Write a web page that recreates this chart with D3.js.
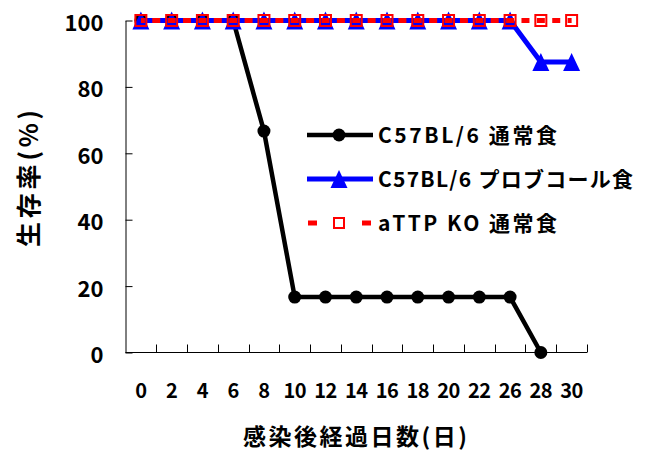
<!DOCTYPE html>
<html>
<head>
<meta charset="utf-8">
<script src="https://cdn.jsdelivr.net/npm/d3@7"></script>
<style>
  body { margin: 0; background: #fff; }
  text { font-family: "Noto Sans CJK JP", "Noto Sans", sans-serif; font-weight: bold; }
</style>
</head>
<body>
<div id="chart-area"></div>
<script>
// 日数 (24 is not in the original axis)
const days = ["0", "2", "4", "6", "8", "10", "12", "14", "16", "18", "20", "22", "26", "28", "30"]
const yTicks = [0, 20, 40, 60, 80, 100]

const seriesNames = ["C57BL/6 通常食", "C57BL/6 プロブコール食", "aTTP KO 通常食"]
const wildNormal = [100, 100, 100, 100, 66.7, 16.7, 16.7, 16.7, 16.7, 16.7, 16.7, 16.7, 16.7, 0, null]
const wildProbucol = [100, 100, 100, 100, 100, 100, 100, 100, 100, 100, 100, 100, 100, 87.5, 87.5]
const koNormal = [100, 100, 100, 100, 100, 100, 100, 100, 100, 100, 100, 100, 100, 100, 100]

const width = 651
const height = 453

const svg = d3.select("#chart-area").append("svg")
  .attr("width", width)
  .attr("height", height)

const x = d3.scaleBand()
  .domain(days)
  .range([125.5, 587])

const y = d3.scaleLinear()
  .domain([0, 100])
  .range([352.5, 20.5])

const cx = d => x(d) + x.bandwidth() / 2

// x軸
const xAxisCall = d3.axisBottom(x)
  .tickSize(0)
  .tickPadding(31)

const xg = svg.append("g")
  .attr("transform", `translate(0, ${y(0)})`)
  .call(xAxisCall)
xg.select(".domain").remove()
xg.selectAll("text")
  .attr("font-size", "20px")
  .attr("letter-spacing", "-0.5")
  .attr("fill", "#000")

svg.append("line")
  .attr("x1", x.range()[0]).attr("x2", x.range()[1])
  .attr("y1", y(0)).attr("y2", y(0))
  .attr("stroke", "#000").attr("stroke-width", 1)

// 目盛りはカテゴリの境目に
const edges = days.slice(1).map(d => x(d)).concat([x.range()[1]])
svg.selectAll(".xtick")
  .data(edges)
  .enter().append("line")
  .attr("class", "xtick")
  .attr("x1", d => Math.round(d) + 0.5).attr("x2", d => Math.round(d) + 0.5)
  .attr("y1", y(0)).attr("y2", y(0) - 8)
  .attr("stroke", "#000").attr("stroke-width", 1)

// y軸
const yAxisCall = d3.axisLeft(y)
  .tickValues(yTicks)
  .tickSizeInner(-7)
  .tickSizeOuter(0)
  .tickPadding(22)

const yg = svg.append("g")
  .attr("transform", `translate(${x.range()[0]}, 0)`)
  .call(yAxisCall)
yg.selectAll("text")
  .attr("font-size", "22px")
  .attr("dy", "0.45em")
  .attr("fill", "#000")

// 軸ラベル
svg.append("text")
  .attr("x", 243)
  .attr("y", 445)
  .attr("font-size", "23px")
  .attr("textLength", 224)
  .attr("lengthAdjust", "spacing")
  .text("感染後経過日数(日)")

svg.append("text")
  .attr("transform", "translate(38, 247) rotate(-90)")
  .attr("font-size", "25px")
  .attr("textLength", 137)
  .attr("lengthAdjust", "spacing")
  .text("生存率(%)")

const line = d3.line()
  .defined(d => d.v !== null)
  .x(d => cx(d.day))
  .y(d => y(d.v))

const toPoints = arr => days.map((day, i) => ({ day: day, v: arr[i] }))

// 黒: C57BL/6 通常食
const blackPts = toPoints(wildNormal)
svg.append("path")
  .attr("d", line(blackPts))
  .attr("fill", "none")
  .attr("stroke", "#000")
  .attr("stroke-width", 4.5)

svg.selectAll(".dot")
  .data(blackPts.filter(d => d.v !== null))
  .enter().append("circle")
  .attr("class", "dot")
  .attr("cx", d => cx(d.day))
  .attr("cy", d => y(d.v))
  .attr("r", 6.5)
  .attr("fill", "#000")

// 青: プロブコール食
const triangle = "M0,-9L8.5,9L-8.5,9Z"
const bluePts = toPoints(wildProbucol)
svg.append("path")
  .attr("d", line(bluePts))
  .attr("fill", "none")
  .attr("stroke", "#0000ff")
  .attr("stroke-width", 5)

svg.selectAll(".tri")
  .data(bluePts)
  .enter().append("path")
  .attr("class", "tri")
  .attr("d", triangle)
  .attr("transform", d => `translate(${cx(d.day)}, ${y(d.v)})`)
  .attr("fill", "#0000ff")

// 赤: aTTP KO
const redPts = toPoints(koNormal)
svg.append("path")
  .attr("d", line(redPts))
  .attr("fill", "none")
  .attr("stroke", "#ff0000")
  .attr("stroke-width", 5)
  .attr("stroke-dasharray", `8,${x.bandwidth() / 2 - 8}`)
  .attr("stroke-dashoffset", 4)

svg.selectAll(".sq")
  .data(redPts)
  .enter().append("rect")
  .attr("class", "sq")
  .attr("x", d => cx(d.day) - 5.5)
  .attr("y", d => y(d.v) - 5.5)
  .attr("width", 11)
  .attr("height", 11)
  .attr("fill", "none")
  .attr("stroke", "#ff0000")
  .attr("stroke-width", 2)

// 凡例
const legend = svg.append("g")
const rows = [135, 179, 223]
const legendWidths = [179, 255, 179]

legend.append("line")
  .attr("x1", 307).attr("x2", 373).attr("y1", rows[0]).attr("y2", rows[0])
  .attr("stroke", "#000").attr("stroke-width", 4.5)
legend.append("circle")
  .attr("cx", 339).attr("cy", rows[0]).attr("r", 6.5).attr("fill", "#000")

legend.append("line")
  .attr("x1", 307).attr("x2", 373).attr("y1", rows[1]).attr("y2", rows[1])
  .attr("stroke", "#0000ff").attr("stroke-width", 5)
legend.append("path")
  .attr("d", triangle)
  .attr("transform", `translate(339, ${rows[1]})`)
  .attr("fill", "#0000ff")

legend.append("line")
  .attr("x1", 308).attr("x2", 317).attr("y1", rows[2]).attr("y2", rows[2])
  .attr("stroke", "#ff0000").attr("stroke-width", 5)
legend.append("line")
  .attr("x1", 362).attr("x2", 371).attr("y1", rows[2]).attr("y2", rows[2])
  .attr("stroke", "#ff0000").attr("stroke-width", 5)
legend.append("rect")
  .attr("x", 334).attr("y", rows[2] - 5).attr("width", 10).attr("height", 10)
  .attr("fill", "none").attr("stroke", "#ff0000").attr("stroke-width", 2)

legend.selectAll(".ltext")
  .data(seriesNames)
  .enter().append("text")
  .attr("class", "ltext")
  .attr("x", 378)
  .attr("y", (d, i) => rows[i])
  .attr("dy", "0.36em")
  .attr("font-size", "21px")
  .attr("textLength", (d, i) => legendWidths[i])
  .attr("lengthAdjust", "spacing")
  .text(d => d)
</script>
</body>
</html>
